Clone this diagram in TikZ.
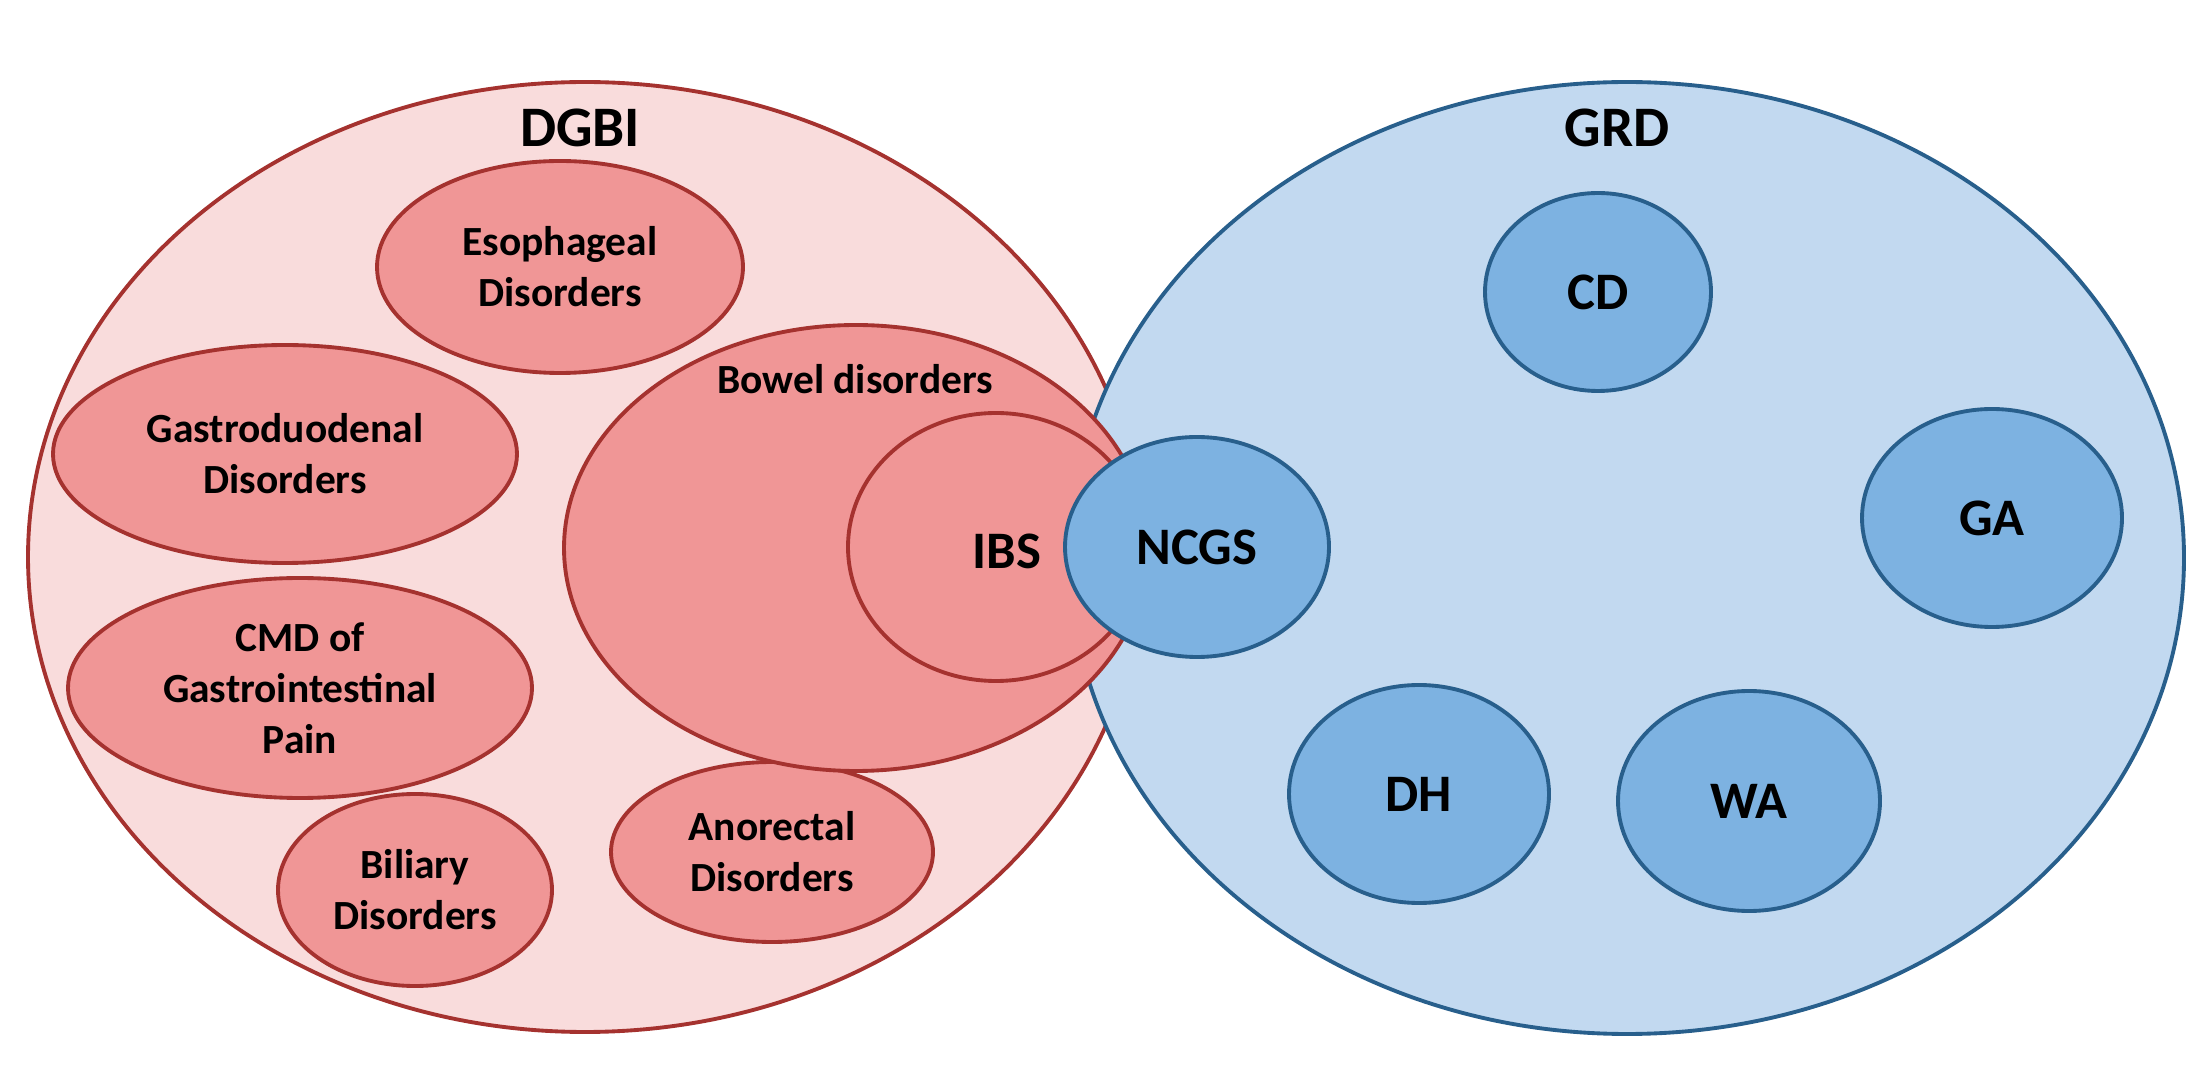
\documentclass[tikz,border=0pt]{standalone}
\usepackage{fontspec}
\setmainfont{Carlito}
\usetikzlibrary{shapes.geometric}
\definecolor{pinkbg}{RGB}{249,220,220}
\definecolor{pinkin}{RGB}{240,150,150}
\definecolor{redline}{RGB}{165,50,47}
\definecolor{bluebg}{RGB}{194,217,240}
\definecolor{bluein}{RGB}{125,178,225}
\definecolor{blueline}{RGB}{40,95,140}
\begin{document}
\begin{tikzpicture}[x=0.1mm,y=-0.1mm,
  redell/.style={ellipse, draw=redline, line width=1.1pt, inner sep=0pt, align=center,
    font=\bfseries\fontsize{11.8}{14.5}\selectfont},
  redbig/.style={redell, fill=pinkbg},
  redin/.style={redell, fill=pinkin},
  blueell/.style={ellipse, draw=blueline, line width=1.1pt, inner sep=0pt, align=center,
    font=\bfseries\fontsize{15}{18}\selectfont},
  bluebig/.style={blueell, fill=bluebg},
  bluein/.style={blueell, fill=bluein},
  title/.style={font=\bfseries\fontsize{16.3}{19}\selectfont, inner sep=0pt},
  bigtxt/.style={font=\bfseries\fontsize{15}{18}\selectfont, inner sep=0pt},
  smalltxt/.style={font=\bfseries\fontsize{11.8}{14.5}\selectfont, inner sep=0pt},
  sz/.style 2 args={minimum width=#1*0.2mm, minimum height=#2*0.2mm}]
\useasboundingbox (0,0) rectangle (2212,1065);
% big ellipses
\node[redbig, sz={557}{475}] (dgbi) at (585,557) {};
\node[bluebig, sz={557}{476}] (grd) at (1627,558) {};
\node[title] (dgbit) at (580,128) {DGBI};
\node[title] (grdt) at (1617,128) {GRD};
% DGBI members
\node[redin, sz={183}{106}] (eso) at (560,267) {Esophageal\\Disorders};
\node[redin, sz={232}{109}] (gastro) at (285,454) {Gastroduodenal\\Disorders};
\node[redin, sz={232}{110}] (cmd) at (300,688) {CMD of\\Gastrointestinal\\Pain};
\node[redin, sz={137}{96}] (bil) at (415,890) {Biliary\\Disorders};
\node[redin, sz={161}{90}] (ano) at (772,852) {Anorectal\\Disorders};
\node[redin, sz={292}{223}] (bowel) at (856,548) {};
\node[smalltxt] (bowelt) at (855,379) {Bowel disorders};
\node[redin, sz={148}{134}] (ibs) at (996,547) {};
\node[bigtxt] (ibst) at (1007,551) {IBS};
% GRD members
\node[bluein, sz={132}{110}] (ncgs) at (1197,547) {NCGS};
\node[bluein, sz={113}{99}] (cd) at (1598,292) {CD};
\node[bluein, sz={130}{109}] (ga) at (1992,518) {GA};
\node[bluein, sz={130}{109}] (dh) at (1419,794) {DH};
\node[bluein, sz={131}{110}] (wa) at (1749,801) {WA};
\end{tikzpicture}
\end{document}
